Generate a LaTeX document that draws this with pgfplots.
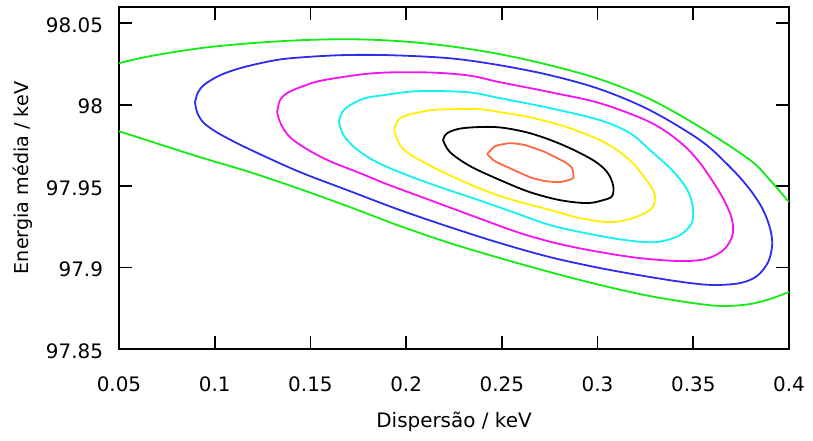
\documentclass[border=0pt]{standalone}
\usepackage{fontspec}
\setmainfont{DejaVu Sans}
\usepackage{pgfplots}
\pgfplotsset{compat=1.18}
\definecolor{cgreen}{RGB}{20,235,20}
\definecolor{cblue}{RGB}{45,45,235}
\definecolor{cmag}{RGB}{245,20,240}
\definecolor{ccyan}{RGB}{20,240,240}
\definecolor{cyel}{RGB}{255,238,0}
\definecolor{corange}{RGB}{255,105,65}
\pgfplotsset{cont/.style={line width=0.9bp, smooth, tension=0.55, no markers}}
\begin{document}
\begin{tikzpicture}
\begin{axis}[
  scale only axis,
  width=335bp, height=171bp,
  xmin=0.05, xmax=0.4, ymin=97.85, ymax=98.06,
  xtick={0.05,0.1,0.15,0.2,0.25,0.3,0.35,0.4},
  ytick={97.85,97.9,97.95,98,98.05},
  scaled x ticks=false, scaled y ticks=false,
  /pgf/number format/assume math mode=true,
  xticklabel={\pgfmathprintnumber[fixed,precision=2]{\tick}},
  yticklabel={\pgfmathprintnumber[fixed,precision=2]{\tick}},
  tick align=inside, major tick length=6.5bp,
  axis line style={line width=0.8bp},
  every tick/.style={line width=0.8bp, black},
  font=\fontsize{10}{12}\selectfont,
  xticklabel style={yshift=-10.5bp},
  yticklabel style={xshift=-4.5bp, yshift=-1bp},
  xlabel={Dispersão / keV},
  ylabel={Energia média / keV},
  xlabel style={yshift=-3bp},
  ylabel style={font=\fontsize{9.6}{12}\selectfont},
  clip=true,
]
\coordinate (bl) at (rel axis cs:0,0);
\coordinate (tr) at (rel axis cs:1,1);
% green (outermost, open)
\addplot[cont, cgreen] coordinates {
(0.0500,98.0255) (0.0662,98.0298) (0.0923,98.0347) (0.1184,98.0377) (0.1446,98.0396)
(0.1707,98.0402) (0.1968,98.0390) (0.2229,98.0359) (0.2491,98.0310) (0.2752,98.0242)
(0.3013,98.0156) (0.3274,98.0034) (0.3536,97.9862) (0.3797,97.9660) (0.3901,97.9537)
(0.4000,97.9402)};
\addplot[cont, cgreen] coordinates {
(0.0500,97.9837) (0.0662,97.9776) (0.0923,97.9678) (0.1184,97.9586) (0.1446,97.9482)
(0.1707,97.9371) (0.1968,97.9255) (0.2229,97.9150) (0.2491,97.9058) (0.2752,97.8972)
(0.3013,97.8893) (0.3274,97.8825) (0.3536,97.8776) (0.3666,97.8764) (0.3797,97.8776)
(0.3901,97.8807) (0.4000,97.8850)};
% blue
\addplot[cont, cblue] coordinates {
(0.0897,98.0015) (0.0913,98.0077) (0.0949,98.0126) (0.1028,98.0181) (0.1132,98.0224)
(0.1263,98.0261) (0.1393,98.0285) (0.1655,98.0304) (0.1916,98.0304) (0.2229,98.0285)
(0.2491,98.0242) (0.2752,98.0181) (0.3013,98.0095) (0.3274,97.9966) (0.3536,97.9782)
(0.3682,97.9629) (0.3786,97.9494) (0.3860,97.9365) (0.3901,97.9242) (0.3912,97.9138)
(0.3891,97.9034) (0.3833,97.8948) (0.3745,97.8905) (0.3614,97.8893) (0.3483,97.8905)
(0.3274,97.8942) (0.3013,97.8997) (0.2752,97.9064) (0.2491,97.9150) (0.2229,97.9248)
(0.1968,97.9353) (0.1707,97.9469) (0.1446,97.9586) (0.1237,97.9696) (0.1106,97.9770)
(0.1002,97.9837) (0.0939,97.9893) (0.0908,97.9954) (0.0897,98.0015)};
% magenta
\addplot[cont, cmag] coordinates {
(0.1326,97.9954) (0.1341,98.0028) (0.1378,98.0071) (0.1446,98.0107) (0.1566,98.0150)
(0.1827,98.0193) (0.2088,98.0199) (0.2318,98.0181) (0.2491,98.0138) (0.2752,98.0077)
(0.3013,98.0009) (0.3274,97.9893) (0.3431,97.9770) (0.3536,97.9641) (0.3640,97.9457)
(0.3692,97.9334) (0.3708,97.9248) (0.3698,97.9175) (0.3651,97.9101) (0.3562,97.9052)
(0.3431,97.9040) (0.3222,97.9058) (0.3013,97.9095) (0.2804,97.9144) (0.2595,97.9212)
(0.2350,97.9316) (0.2125,97.9414) (0.1900,97.9512) (0.1759,97.9580) (0.1602,97.9653)
(0.1482,97.9727) (0.1393,97.9801) (0.1346,97.9880) (0.1326,97.9954)};
% cyan
\addplot[cont, ccyan] coordinates {
(0.1649,97.9893) (0.1665,97.9954) (0.1707,97.9997) (0.1785,98.0040) (0.1879,98.0058)
(0.2057,98.0083) (0.2318,98.0077) (0.2491,98.0040) (0.2752,97.9979) (0.3013,97.9905)
(0.3170,97.9825) (0.3274,97.9721) (0.3379,97.9610) (0.3447,97.9518) (0.3483,97.9439)
(0.3499,97.9353) (0.3489,97.9267) (0.3421,97.9193) (0.3300,97.9156) (0.3144,97.9169)
(0.2961,97.9206) (0.2752,97.9261) (0.2543,97.9347) (0.2350,97.9426) (0.2177,97.9494)
(0.2020,97.9561) (0.1879,97.9629) (0.1785,97.9690) (0.1717,97.9752) (0.1670,97.9819)
(0.1649,97.9893)};
% yellow
\addplot[cont, cyel] coordinates {
(0.1937,97.9844) (0.1958,97.9905) (0.2005,97.9936) (0.2125,97.9966) (0.2229,97.9972)
(0.2386,97.9972) (0.2491,97.9954) (0.2647,97.9923) (0.2841,97.9862) (0.3013,97.9782)
(0.3102,97.9721) (0.3185,97.9641) (0.3248,97.9549) (0.3290,97.9475) (0.3300,97.9426)
(0.3280,97.9359) (0.3185,97.9304) (0.3065,97.9279) (0.2909,97.9304) (0.2736,97.9359)
(0.2475,97.9445) (0.2214,97.9574) (0.2036,97.9684) (0.1968,97.9752) (0.1937,97.9844)};
% black
\addplot[cont, black] coordinates {
(0.2193,97.9782) (0.2214,97.9825) (0.2297,97.9856) (0.2475,97.9862) (0.2647,97.9825)
(0.2820,97.9752) (0.2976,97.9660) (0.3050,97.9586) (0.3081,97.9506) (0.3076,97.9439)
(0.3029,97.9414) (0.2945,97.9396) (0.2804,97.9414) (0.2647,97.9463) (0.2491,97.9537)
(0.2334,97.9623) (0.2229,97.9709) (0.2193,97.9782)};
% orange
\addplot[cont, corange, tension=0.35] coordinates {
(0.2423,97.9696) (0.2464,97.9745) (0.2543,97.9764) (0.2621,97.9752) (0.2726,97.9709)
(0.2830,97.9647) (0.2867,97.9610) (0.2872,97.9549) (0.2804,97.9525) (0.2726,97.9531)
(0.2647,97.9555) (0.2543,97.9610) (0.2464,97.9653) (0.2423,97.9696)};
\end{axis}
\pgfresetboundingbox
\path[use as bounding box] ([xshift=-59.5bp,yshift=-46bp]bl) rectangle ([xshift=12bp,yshift=3.5bp]tr);
\end{tikzpicture}
\end{document}
